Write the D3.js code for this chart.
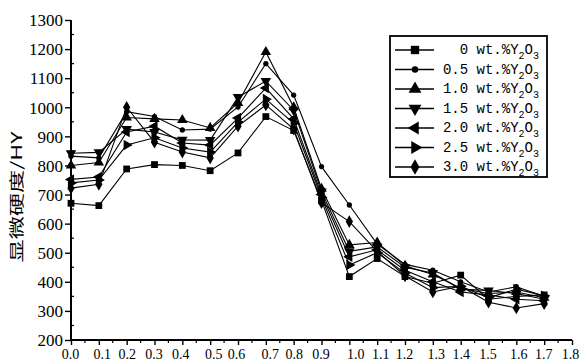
<!DOCTYPE html>
<html><head><meta charset="utf-8">
<script src="https://cdn.jsdelivr.net/npm/d3@7"></script>
<style>body{margin:0;background:#fff}svg{display:block}</style>
</head><body><svg id="c" width="580" height="361"></svg>
<script>
const xValues = [0.0,0.1,0.2,0.3,0.4,0.5,0.6,0.7,0.8,0.9,1.0,1.1,1.2,1.3,1.4,1.5,1.6,1.7];
const seriesNames = ["0","0.5","1.0","1.5","2.0","2.5","3.0"];
const s0 = [670,662,788,803,800,782,843,968,920,680,418,480,418,395,423,340,350,355];
const s05 = [832,826,985,968,922,925,1001,1150,1042,796,664,530,460,440,400,365,383,350];
const s10 = [800,810,965,960,956,929,1015,1190,1000,720,527,535,455,425,378,360,365,345];
const s15 = [842,845,925,915,888,887,1035,1090,990,710,505,520,450,430,375,370,360,340];
const s20 = [752,760,915,935,877,870,963,1066,960,700,486,510,440,400,365,355,340,335];
const s25 = [740,750,870,895,860,846,949,1028,945,690,458,500,430,380,385,345,375,352];
const s30 = [722,735,1000,880,846,826,935,1008,925,672,607,505,420,365,385,330,310,325];
const seriesValues = [s0,s05,s10,s15,s20,s25,s30];
const xTicks = [0.0,0.1,0.2,0.3,0.4,0.5,0.6,0.7,0.8,0.9,1.0,1.1,1.2,1.3,1.4,1.5,1.6,1.7,1.8];
const yTicks = [200,300,400,500,600,700,800,900,1000,1100,1200,1300];
const yLabel = "显微硬度/HY";

// layout (not data)
const labelShift = [-1,3,0,-1,-2,3,-2,4,0,-1,6,3,-1,3,0,-1,2,-1,-2];
const svg = d3.select("#c");
const x = d3.scaleLinear().domain([0,1.8]).range([71,572]);
const y = d3.scaleLinear().domain([200,1300]).range([340,20]);

const symbols = [
  {t:d3.symbolSquare, s:46, r:0},
  {t:d3.symbolCircle, s:22, r:0},
  {t:d3.symbolTriangle, s:48, r:0},
  {t:d3.symbolTriangle, s:48, r:180},
  {t:d3.symbolTriangle, s:48, r:-90},
  {t:d3.symbolTriangle, s:48, r:90},
  {t:d3.symbolDiamond, s:46, r:0}
];

const line = d3.line().x((d,i)=>x(xValues[i])).y(d=>y(d));
seriesValues.forEach((vals,k)=>{
  svg.append("path").attr("d",line(vals)).attr("fill","none").attr("stroke","#000").attr("stroke-width",1.1);
  const sym = d3.symbol().type(symbols[k].t).size(symbols[k].s);
  svg.selectAll(null).data(vals).enter().append("path")
    .attr("d",sym)
    .attr("transform",(d,i)=>`translate(${x(xValues[i])},${y(d)}) rotate(${symbols[k].r})`)
    .attr("fill","#000");
});

const fontSerif = "'Liberation Serif','DejaVu Serif',serif";
const yAxis = svg.append("g").attr("transform","translate(71,0)")
  .call(d3.axisLeft(y).tickValues(yTicks).tickSize(6).tickPadding(2).tickFormat(d3.format("d")));
yAxis.selectAll("text").attr("font-family",fontSerif).attr("font-size",17).attr("fill","#000").attr("dy","0.34em");
yAxis.append("g").selectAll("line").data(d3.range(250,1300,100)).enter().append("line")
  .attr("x1",0).attr("x2",3).attr("y1",d=>y(d)).attr("y2",d=>y(d)).attr("stroke","#000").attr("stroke-width",1.2);

const xAxis = svg.append("g").attr("transform","translate(0,340)")
  .call(d3.axisBottom(x).tickValues(xTicks).tickSize(5).tickPadding(4).tickFormat(d3.format(".1f")));
xAxis.selectAll("text").attr("font-family",fontSerif).attr("font-size",14).attr("fill","#000")
  .attr("dx",(d,i)=>labelShift[i]);
xAxis.append("g").selectAll("line").data(d3.range(0.05,1.8,0.1)).enter().append("line")
  .attr("x1",d=>x(d)).attr("x2",d=>x(d)).attr("y1",0).attr("y2",3).attr("stroke","#000").attr("stroke-width",1.2);
[yAxis,xAxis].forEach(a=>{
  a.select(".domain").attr("stroke","#000").attr("stroke-width",2);
  a.selectAll(".tick line").attr("stroke","#000").attr("stroke-width",1.4);
});
xAxis.select(".domain").attr("d","M71,0H572");
yAxis.select(".domain").attr("d","M0,340V20");

svg.append("text").attr("transform","translate(22,197) rotate(-90)")
  .attr("text-anchor","middle").attr("font-family","'Noto Sans CJK SC',sans-serif")
  .attr("font-size",15).attr("textLength",131).attr("lengthAdjust","spacingAndGlyphs")
  .attr("fill","#000").text(yLabel);

const lg = svg.append("g");
lg.append("rect").attr("x",390).attr("y",36).attr("width",157).attr("height",141)
  .attr("fill","#fff").attr("stroke","#000").attr("stroke-width",1.8);
seriesNames.forEach((n,k)=>{
  const cy = 50 + k*19.5;
  lg.append("line").attr("x1",395).attr("x2",434).attr("y1",cy).attr("y2",cy).attr("stroke","#000").attr("stroke-width",1.6);
  lg.append("path").attr("d",d3.symbol().type(symbols[k].t).size(symbols[k].s*1.5)())
    .attr("transform",`translate(415,${cy}) rotate(${symbols[k].r})`).attr("fill","#000");
  const t = lg.append("text").attr("x",539).attr("y",cy+4).attr("text-anchor","end")
    .attr("font-family","'Liberation Mono','DejaVu Sans Mono',monospace").attr("font-size",14).attr("fill","#000");
  t.append("tspan").text(n+" wt.%Y");
  t.append("tspan").attr("font-size",10).attr("dy",5).text("2");
  t.append("tspan").attr("dy",-5).text("O");
  t.append("tspan").attr("font-size",10).attr("dy",5).text("3");
});
</script></body></html>
